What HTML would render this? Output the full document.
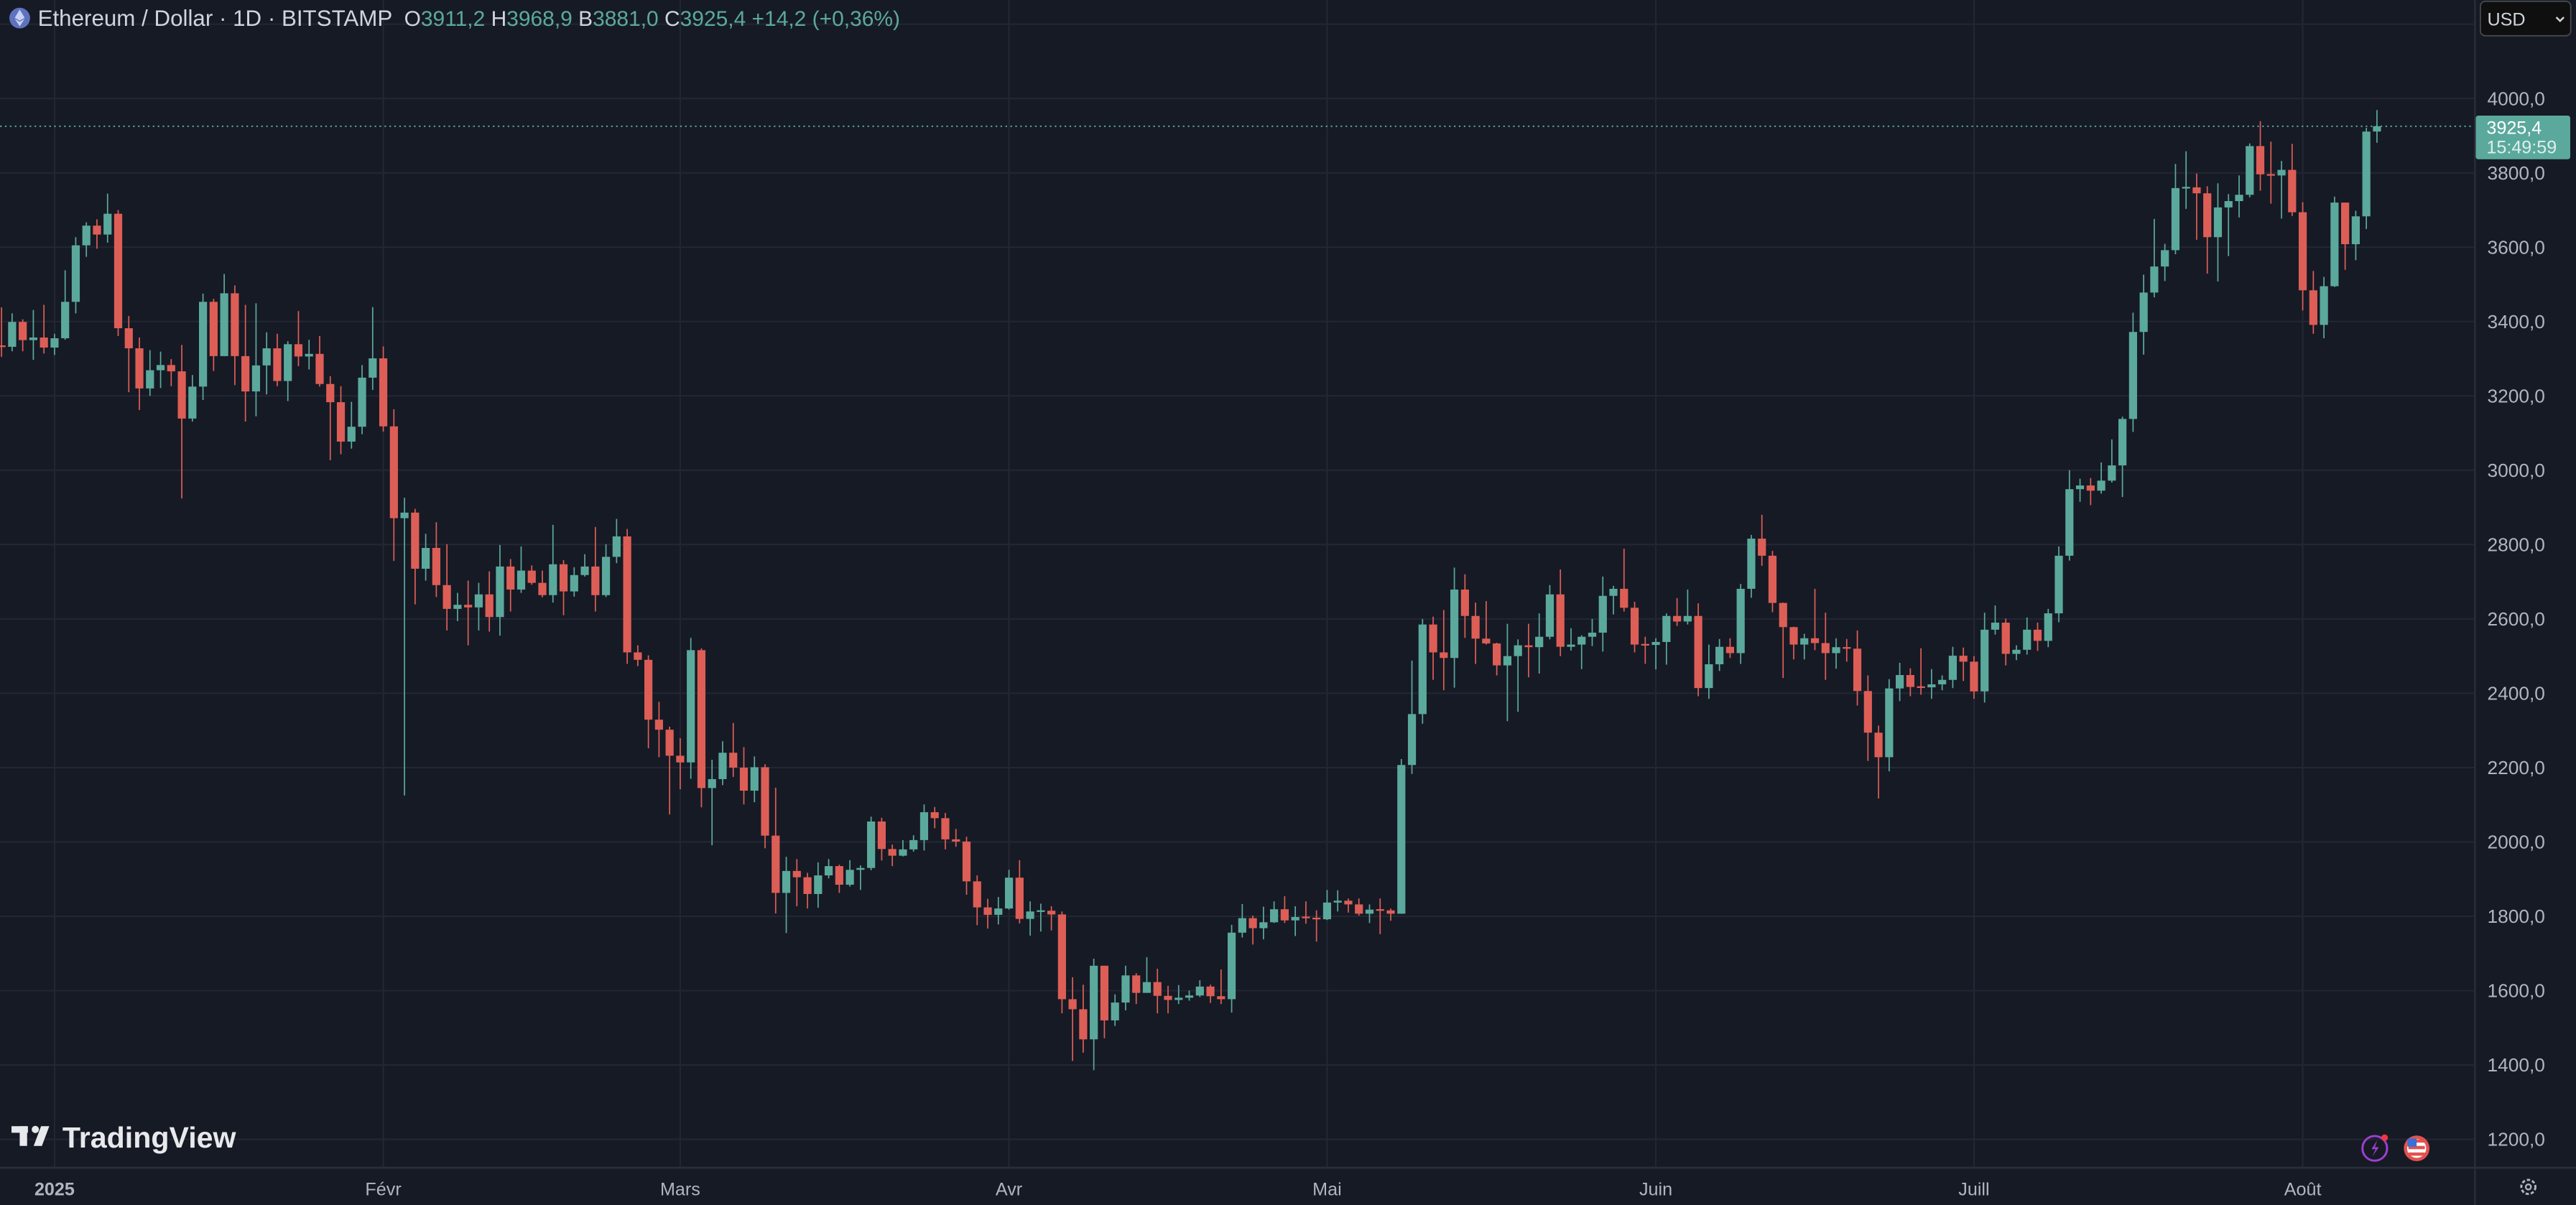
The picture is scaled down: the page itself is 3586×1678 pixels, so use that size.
<!DOCTYPE html>
<html><head><meta charset="utf-8"><style>
html,body{margin:0;padding:0;background:#161A25;overflow:hidden}
svg{display:block}
text{font-family:"Liberation Sans","DejaVu Sans",sans-serif}
</style></head><body>
<svg id="c" xmlns="http://www.w3.org/2000/svg" width="3586" height="1678" viewBox="0 0 1568 734" preserveAspectRatio="none">
<rect x="0" y="0" width="1568" height="734" fill="#161A25"/>
<g id="grid"></g>
<g id="candles"></g>
<line x1="0" x2="1506" y1="76.9" y2="76.9" stroke="#5BA99C" stroke-width="0.8" stroke-dasharray="1,2"/>
<line x1="1506.5" x2="1506.5" y1="0" y2="734" stroke="#2A2E39" stroke-width="1"/>
<line x1="0" x2="1568" y1="711.3" y2="711.3" stroke="#2A2E39" stroke-width="1.2"/>
<g id="axis" font-size="11.5" fill="#B2B5BE"></g>
<rect x="1507" y="70.4" width="57.5" height="26.6" rx="1.5" fill="#5BA99C"/>
<text x="1513.5" y="81.5" font-size="11" fill="#FFFFFF">3925,4</text>
<text x="1513.5" y="93.5" font-size="11" fill="#DDEFEC">15:49:59</text>
<rect x="1509.8" y="0.8" width="55" height="21" rx="3" fill="#0F0F0F" stroke="#45484F" stroke-width="0.8"/>
<text x="1514" y="15.5" font-size="11" fill="#D1D4DC">USD</text>
<path d="M1556 10.5 L1558.3 12.8 L1560.6 10.5" fill="none" stroke="#D1D4DC" stroke-width="1.1"/>
<circle cx="12" cy="11" r="6.3" fill="#5F72BE"/>
<path d="M12 5.8 L15 10.8 L12 12.6 L9 10.8 Z M12 13.3 L15 11.5 L12 16 L9 11.5 Z" fill="#C9D1F2"/>
<text x="23" y="15.7" font-size="13.7" fill="#D1D4DC">Ethereum / Dollar · 1D · BITSTAMP</text>
<text x="246" y="15.7" font-size="13.1" fill="#D1D4DC">O<tspan fill="#5BA99C">3911,2</tspan> H<tspan fill="#5BA99C">3968,9</tspan> B<tspan fill="#5BA99C">3881,0</tspan> C<tspan fill="#5BA99C">3925,4 +14,2 (+0,36%)</tspan></text>
<g fill="#E8E9EC">
<rect x="7" y="686" width="10" height="4"/>
<rect x="12" y="686" width="4.5" height="12"/>
<circle cx="21.5" cy="688" r="2.2"/>
<path d="M25 686 L30 686 L25.5 698 L20.5 698 Z"/>
</g>
<text x="38" y="699" font-size="18" font-weight="bold" fill="#E8E9EC">TradingView</text>
<circle cx="1445.5" cy="699.5" r="7.5" fill="none" stroke="#9C3FD0" stroke-width="1.3"/>
<path d="M1447 694.5 L1443.5 700 L1446 700 L1444 704.5 L1448 698.8 L1445.6 698.8 Z" fill="#9C3FD0"/>
<circle cx="1451.5" cy="693" r="2" fill="#F23645"/>
<circle cx="1471" cy="699.5" r="7.8" fill="#E0534F"/>
<circle cx="1471" cy="699.5" r="5.8" fill="#FFFFFF"/>
<rect x="1466" y="694" width="10" height="2" fill="#E0534F"/>
<rect x="1466" y="698" width="10" height="2" fill="#E0534F"/>
<rect x="1466" y="702" width="10" height="2" fill="#E0534F"/>
<rect x="1465.5" y="693.5" width="5.5" height="5" fill="#3C6FD8"/>
<circle cx="1539" cy="723" r="4.3" fill="none" stroke="#B2B5BE" stroke-width="1.3" stroke-dasharray="2,1.2"/>
<circle cx="1539" cy="723" r="1.6" fill="none" stroke="#B2B5BE" stroke-width="1"/>
</svg>
<script>
(function(){
var NS="http://www.w3.org/2000/svg";
function el(t,a,p){var e=document.createElementNS(NS,t);for(var k in a)e.setAttribute(k,a[k]);if(p)p.appendChild(e);return e;}
function Y(p){return 60+(4000-p)*0.22643;}
function X(d){return 33.2+d*6.455;}
var grid=document.getElementById('grid'),axis=document.getElementById('axis'),cg=document.getElementById('candles');
for(var p=4200;p>=1200;p-=200){var y=Y(p);el('line',{x1:0,x2:1506,y1:y,y2:y,stroke:'#232734','stroke-width':0.9},grid);
 if(p<=4000){var t=el('text',{x:1514,y:y+4},axis);t.textContent=p+',0';}}
var months=[[0,'2025'],[31,'Févr'],[59,'Mars'],[90,'Avr'],[120,'Mai'],[151,'Juin'],[181,'Juill'],[212,'Août']];
months.forEach(function(m){var x=X(m[0]);el('line',{x1:x,x2:x,y1:0,y2:711,stroke:'#232734','stroke-width':0.9},grid);
 var t=el('text',{x:x,y:728,'text-anchor':'middle','font-size':'11',fill:'#B2B5BE'},axis);t.textContent=m[1];if(m[0]==0)t.setAttribute('font-weight','bold');});
var D=[3332,3438,3305,3399,3422,3320,3350,3406,3320,3357,3431,3297,3330,3445,3314,3355,3367,3310,3453,3538,3351,3605,3627,3422,3658,3667,3574,3634,3675,3596,3690,3744,3612,3382,3700,3361,3328,3415,3210,3220,3357,3162,3269,3323,3200,3283,3319,3221,3266,3299,3226,3139,3337,2924,3225,3256,3131,3453,3475,3189,3307,3461,3267,3476,3528,3307,3307,3497,3229,3212,3445,3131,3282,3449,3145,3328,3371,3204,3240,3367,3226,3339,3347,3186,3306,3428,3280,3313,3351,3271,3232,3361,3225,3183,3253,3027,3077,3226,3043,3117,3184,3058,3249,3283,3097,3301,3439,3216,3118,3333,3104,2871,3164,2756,2886,2926,2125,2735,2896,2639,2791,2829,2703,2691,2860,2659,2627,2801,2569,2638,2670,2594,2631,2703,2529,2666,2697,2569,2605,2728,2566,2741,2799,2555,2679,2761,2620,2730,2795,2670,2697,2744,2692,2664,2730,2658,2747,2853,2644,2674,2758,2610,2718,2739,2660,2741,2774,2714,2664,2847,2620,2767,2801,2659,2822,2869,2750,2510,2842,2479,2490,2529,2473,2329,2502,2252,2302,2377,2228,2232,2310,2074,2214,2279,2142,2516,2549,2170,2145,2521,2093,2169,2221,1991,2240,2271,2153,2200,2320,2175,2138,2255,2101,2201,2230,2107,2017,2209,1983,1863,2146,1808,1922,1960,1755,1905,1954,1827,1860,1917,1821,1910,1945,1823,1935,1954,1902,1885,1939,1863,1925,1951,1880,1930,1937,1871,2055,2068,1924,1981,2065,1950,1963,1993,1935,1980,2005,1961,2005,2018,1974,2080,2101,1977,2064,2094,2037,2007,2078,1980,2001,2035,1987,1894,2014,1858,1824,1910,1776,1804,1847,1767,1821,1852,1778,1904,1925,1818,1793,1951,1781,1813,1840,1748,1815,1834,1759,1805,1827,1762,1577,1813,1539,1550,1636,1411,1469,1616,1433,1667,1686,1386,1520,1667,1472,1568,1590,1505,1641,1667,1547,1594,1647,1564,1623,1690,1594,1586,1659,1539,1575,1613,1539,1581,1615,1564,1587,1600,1573,1611,1628,1583,1585,1616,1567,1577,1657,1564,1756,1777,1541,1795,1833,1743,1768,1802,1724,1784,1826,1738,1819,1840,1782,1789,1854,1782,1798,1827,1747,1796,1840,1780,1792,1816,1732,1837,1871,1790,1842,1870,1813,1832,1848,1810,1807,1848,1802,1818,1832,1782,1816,1848,1752,1807,1821,1788,2207,2223,1808,2344,2488,2183,2585,2600,2318,2510,2606,2436,2495,2624,2408,2679,2738,2415,2608,2720,2549,2547,2644,2479,2534,2648,2531,2475,2536,2448,2500,2587,2325,2529,2545,2350,2524,2587,2443,2552,2615,2453,2666,2691,2545,2525,2733,2500,2531,2575,2515,2552,2556,2465,2563,2600,2527,2662,2714,2512,2681,2689,2612,2630,2789,2620,2531,2646,2510,2530,2552,2479,2538,2548,2464,2608,2615,2477,2593,2656,2581,2608,2679,2585,2414,2642,2392,2478,2531,2385,2525,2546,2460,2508,2548,2495,2681,2694,2479,2816,2826,2657,2770,2880,2743,2643,2783,2618,2578,2644,2441,2531,2579,2491,2548,2560,2491,2535,2681,2516,2508,2617,2436,2524,2548,2466,2520,2546,2485,2406,2569,2367,2294,2448,2218,2228,2313,2117,2413,2438,2190,2449,2482,2379,2417,2467,2392,2416,2521,2396,2424,2465,2385,2436,2448,2408,2501,2525,2414,2485,2523,2433,2405,2500,2385,2571,2617,2375,2590,2636,2558,2506,2601,2475,2517,2529,2489,2571,2604,2504,2541,2590,2514,2615,2627,2524,2770,2795,2591,2949,3000,2757,2959,2977,2915,2945,2979,2906,2972,3021,2937,3013,3083,2967,3138,3144,2928,3372,3424,3103,3478,3526,3311,3548,3676,3465,3592,3609,3509,3759,3824,3581,3761,3858,3703,3745,3798,3620,3627,3764,3529,3707,3772,3508,3724,3743,3576,3741,3793,3680,3872,3879,3734,3796,3939,3752,3793,3884,3717,3808,3832,3677,3694,3878,3684,3484,3721,3430,3391,3536,3367,3495,3520,3355,3720,3736,3493,3608,3720,3539,3683,3698,3565,3911,3921,3649,3925.4,3968.9,3881];
var o=3335,n=D.length/3;
for(var i=0;i<n;i++){var c=D[3*i],h=D[3*i+1],l=D[3*i+2];
 if(i==n-1)o=3911.2;
 h=Math.max(h,o,c);l=Math.min(l,o,c);
 var col=c>=o?'#5BA99C':'#DD5E56';var x=X(i-5);
 el('line',{x1:x,x2:x,y1:Y(h),y2:Y(l),stroke:col,'stroke-width':0.75},cg);
 var yt=Y(Math.max(o,c)),yb=Y(Math.min(o,c));if(yb-yt<1){var m=(yt+yb)/2;yt=m-0.5;yb=m+0.5;}
 el('rect',{x:x-2.45,y:yt,width:4.9,height:yb-yt,fill:col},cg);
 o=c;}
})();
</script>
</body></html>
